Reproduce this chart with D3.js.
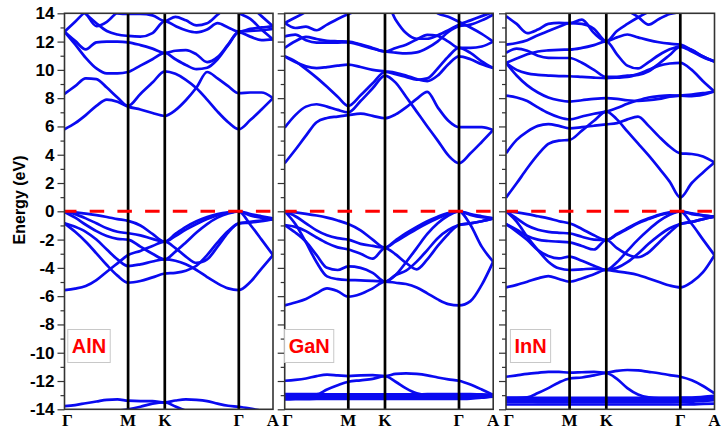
<!DOCTYPE html>
<html><head><meta charset="utf-8">
<script src="https://cdn.jsdelivr.net/npm/d3@7"></script>
<style>body{margin:0;background:#fff}svg{display:block}</style>
</head><body>
<svg id="chart" width="723" height="439"></svg>
<script>
// ---------- data ----------
const kLabels = ["Γ","M","K","Γ","A"];
const kTicks = [0, 0.305, 0.481, 0.836, 1.0];
const kGrid = [0, 0.051, 0.102, 0.153, 0.203, 0.254, 0.305, 0.364, 0.422, 0.481, 0.532, 0.582, 0.633, 0.684, 0.734, 0.785, 0.836, 0.891, 0.945, 1.0];
const energyMajor = [-14,-12,-10,-8,-6,-4,-2,0,2,4,6,8,10,12,14];
const energyMinor = [-13,-11,-9,-7,-5,-3,-1,1,3,5,7,9,11,13];
const materials = ["AlN","GaN","InN"];

const alnBands = [
 [5.8,6.23,6.8,7.45,7.9,7.75,7.4,7.2,6.95,6.75,7.15,7.85,8.75,9.85,9.4,8.85,8.35,8.4,8.4,8.0],
 [8.3,8.85,9.4,9.35,8.75,8.05,7.45,8.3,9.1,9.9,9.72,9.3,8.7,7.9,7.05,6.3,5.8,6.45,7.2,8.0],
 [12.7,11.8,10.85,10.1,9.75,9.75,9.85,10.3,10.75,11.2,10.75,10.35,10.05,10.15,10.75,11.75,12.65,12.35,12.1,12.15],
 [12.7,12.05,11.45,11.95,12.0,12.0,11.95,11.75,11.5,11.2,11.35,11.4,11.1,10.55,10.9,11.8,12.7,12.75,12.8,12.9],
 [15.0,14.5,13.95,13.3,12.75,12.5,12.4,12.35,12.6,13.45,13.1,12.8,12.65,12.85,13.3,13.0,12.7,12.9,13.0,13.08],
 [12.7,13.4,14.1,14.3,14.15,14.0,13.95,13.95,13.85,13.45,13.75,13.5,13.15,13.3,13.9,14.5,15.0,14.5,13.8,13.08],
 [15.2,14.7,14.0,13.1,13.4,14.1,14.6,14.8,14.6,14.2,14.4,14.6,14.8,14.8,14.6,14.3,14.0,13.6,12.85,12.15],
 [0,-0.08,-0.17,-0.27,-0.4,-0.55,-0.68,-1.0,-1.6,-2.15,-1.6,-1.1,-0.7,-0.4,-0.2,-0.07,0,-0.2,-0.35,-0.5],
 [0,-0.2,-0.5,-0.85,-1.2,-1.45,-1.55,-1.7,-1.95,-2.15,-1.75,-1.3,-0.9,-0.55,-0.28,-0.1,0,-0.3,-0.45,-0.55],
 [-0.05,-0.45,-0.95,-1.4,-1.75,-1.95,-2.0,-2.5,-3.0,-3.4,-2.85,-2.2,-1.5,-0.9,-0.45,-0.15,0,-0.95,-2.0,-3.1],
 [-0.85,-1.1,-1.45,-2.0,-2.7,-3.4,-3.87,-3.75,-3.55,-3.4,-3.5,-3.75,-4.15,-4.65,-5.1,-5.45,-5.57,-5.0,-4.05,-3.1],
 [-0.85,-1.45,-2.15,-2.97,-3.8,-4.55,-5.05,-4.93,-4.67,-4.4,-4.35,-4.2,-3.85,-3.1,-2.2,-1.4,-0.85,-0.75,-0.65,-0.55],
 [-5.57,-5.47,-5.28,-4.86,-4.27,-3.68,-3.09,-2.8,-2.45,-2.15,-2.6,-3.2,-3.65,-3.4,-2.5,-1.5,-0.85,-0.8,-0.7,-0.55],
 [-13.77,-13.7,-13.57,-13.45,-13.33,-13.3,-13.39,-13.42,-13.42,-13.51,-13.38,-13.3,-13.33,-13.42,-13.6,-13.75,-13.82,-13.95,-14.1,-14.3],
 [-14.6,-14.5,-14.4,-14.3,-14.2,-14.1,-14.0,-13.82,-13.6,-13.51,-13.8,-14.1,-14.4,-14.6,-14.7,-14.7,-14.7,-14.7,-14.7,-14.7]
];

const ganBands = [
 [3.4,4.35,5.35,6.3,6.6,6.7,6.8,6.9,6.75,6.58,6.85,7.35,7.95,8.45,7.35,6.4,5.95,5.95,5.95,5.75],
 [5.92,6.8,7.4,7.57,7.4,7.17,7.0,7.8,8.7,9.6,9.1,8.1,7.05,6.0,5.0,3.95,3.4,4.1,4.9,5.75],
 [10.96,10.6,10.05,9.45,8.8,8.1,7.45,8.2,9.05,9.85,9.7,9.5,9.3,9.4,10.1,10.95,11.55,11.2,10.6,10.13],
 [10.96,10.55,10.25,10.13,10.2,10.3,10.37,10.2,10.0,9.9,9.8,9.6,9.35,9.2,9.6,10.4,10.96,10.75,10.4,10.13],
 [11.55,12.02,12.33,12.18,12.05,12.02,12.0,11.8,11.55,11.3,11.55,11.78,12.15,12.48,12.4,12.0,11.55,11.55,11.65,12.0],
 [12.37,12.49,12.09,11.92,11.92,11.93,11.95,11.75,11.5,11.3,11.22,11.17,11.24,11.55,12.02,12.68,13.08,13.2,13.5,13.9],
 [13.32,12.96,13.06,12.8,13.2,13.6,13.95,14.3,14.6,14.9,13.55,12.6,12.2,12.2,12.45,12.8,13.2,13.5,13.8,14.1],
 [13.32,13.7,14.1,14.5,14.8,15.0,15.0,15.0,15.0,15.0,15.0,15.0,15.0,14.6,14.0,13.75,13.4,13.0,12.55,12.0],
 [0,-0.08,-0.18,-0.3,-0.45,-0.65,-0.9,-1.35,-2.0,-2.57,-2.05,-1.55,-1.1,-0.7,-0.38,-0.12,0,-0.2,-0.35,-0.5],
 [0,-0.35,-0.85,-1.35,-1.7,-1.9,-2.0,-2.3,-2.45,-2.57,-2.15,-1.7,-1.25,-0.85,-0.5,-0.18,0,-0.25,-0.42,-0.5],
 [-0.97,-1.1,-1.4,-1.85,-2.25,-2.55,-2.7,-3.0,-3.35,-2.6,-3.05,-3.65,-4.1,-3.4,-2.45,-1.6,-0.97,-0.85,-0.7,-0.5],
 [-0.97,-1.5,-2.15,-3.1,-4.0,-4.15,-3.9,-4.0,-4.35,-4.97,-4.5,-3.6,-2.6,-1.6,-0.85,-0.3,0,-0.97,-2.5,-3.56],
 [0,-0.9,-2.2,-3.6,-4.6,-4.8,-4.86,-4.88,-4.92,-4.97,-4.5,-4.2,-3.56,-2.74,-1.9,-1.32,-0.97,-0.85,-0.7,-0.5],
 [-6.65,-6.45,-6.2,-5.8,-5.45,-5.65,-6.04,-5.85,-5.45,-4.97,-5.05,-5.14,-5.38,-5.8,-6.23,-6.56,-6.65,-6.35,-5.2,-3.56],
 [-11.98,-11.92,-11.82,-11.65,-11.55,-11.6,-11.65,-11.6,-11.58,-11.65,-11.5,-11.46,-11.5,-11.6,-11.75,-11.88,-11.98,-12.25,-12.6,-12.99],
 [-13.0,-13.0,-13.0,-12.95,-12.6,-12.3,-12.05,-11.95,-11.85,-11.65,-12.05,-12.52,-12.87,-13.0,-13.0,-13.0,-13.0,-13.0,-13.0,-13.0],
 [-12.92,-12.92,-12.93,-12.93,-12.94,-12.94,-12.94,-12.94,-12.94,-12.94,-12.94,-12.94,-12.94,-12.93,-12.93,-12.93,-12.92,-12.93,-12.95,-12.99],
 [-13.05,-13.05,-13.05,-13.06,-13.06,-13.06,-13.06,-13.06,-13.06,-13.06,-13.06,-13.06,-13.06,-13.06,-13.05,-13.05,-13.05,-13.05,-13.04,-13.02],
 [-13.16,-13.16,-13.16,-13.16,-13.17,-13.17,-13.17,-13.17,-13.17,-13.17,-13.17,-13.17,-13.17,-13.17,-13.16,-13.16,-13.16,-13.14,-13.1,-13.06],
 [-13.3,-13.29,-13.28,-13.27,-13.27,-13.27,-13.27,-13.27,-13.27,-13.27,-13.27,-13.27,-13.27,-13.27,-13.27,-13.27,-13.27,-13.24,-13.18,-13.1]
];

const innBands = [
 [0.97,1.98,3.04,4.0,4.76,5.0,5.05,5.7,6.4,7.05,6.5,5.65,4.8,3.95,3.05,2.1,0.97,2.0,2.75,3.45],
 [4.1,5.05,5.64,6.04,6.16,6.04,5.87,5.95,6.05,6.15,6.23,6.5,6.7,6.04,5.28,4.58,4.1,4.05,3.87,3.45],
 [8.18,8.05,7.8,7.35,6.95,6.65,6.5,6.7,6.9,7.05,7.3,7.6,7.85,8.05,8.15,8.2,8.18,8.15,8.25,8.47],
 [10.49,9.6,8.9,8.4,8.05,7.85,7.76,7.85,7.95,8.0,7.95,7.85,7.8,7.85,7.95,8.1,8.18,8.25,8.35,8.47],
 [10.49,10.0,9.75,9.65,9.6,9.56,9.55,9.5,9.45,9.42,9.45,9.5,9.7,10.0,10.3,10.45,10.5,10.0,9.2,8.47],
 [11.2,11.5,11.35,11.0,10.85,10.84,10.84,10.5,10.0,9.5,9.5,9.6,9.65,9.9,10.45,11.05,11.65,11.4,10.95,10.6],
 [10.49,10.8,11.1,11.3,11.38,11.42,11.43,11.55,11.75,12.02,11.1,10.3,10.1,10.55,11.05,11.45,11.65,11.3,10.9,10.6],
 [11.78,11.9,12.1,12.45,12.75,13.05,13.3,13.25,12.9,12.02,12.75,13.25,13.7,14.1,14.4,14.6,14.8,14.8,14.8,14.8],
 [13.8,13.25,12.6,12.85,13.25,13.32,13.3,13.55,12.6,12.02,12.3,12.5,12.3,12.1,11.95,11.85,11.78,11.4,10.95,10.6],
 [14.6,14.5,14.4,14.3,14.3,14.3,14.4,14.6,14.8,15.0,14.6,14.2,13.75,13.2,13.6,13.95,14.1,14.3,14.5,14.6],
 [0,-0.08,-0.2,-0.35,-0.5,-0.7,-0.85,-1.25,-1.7,-2.03,-1.6,-1.2,-0.8,-0.5,-0.25,-0.08,0,-0.15,-0.28,-0.38],
 [0,-0.5,-1.0,-1.3,-1.45,-1.52,-1.56,-1.8,-2.0,-2.03,-1.65,-1.25,-0.85,-0.55,-0.28,-0.1,0,-0.2,-0.3,-0.38],
 [-0.9,-1.3,-1.75,-2.0,-2.1,-2.15,-2.2,-2.45,-2.7,-2.03,-2.6,-3.05,-3.25,-2.9,-2.2,-1.5,-0.9,-0.75,-0.55,-0.38],
 [-0.9,-1.44,-2.03,-2.74,-3.16,-3.33,-3.2,-3.5,-3.85,-4.15,-3.6,-2.8,-2.0,-1.3,-0.7,-0.25,0,-0.9,-2.0,-3.1],
 [0,-0.73,-1.8,-2.74,-3.56,-4.03,-4.15,-4.1,-4.05,-4.15,-4.0,-3.6,-3.0,-2.3,-1.7,-1.2,-0.9,-0.75,-0.55,-0.38],
 [-5.38,-5.2,-4.98,-4.74,-4.58,-4.79,-4.98,-4.75,-4.45,-4.15,-4.25,-4.35,-4.5,-4.75,-5.0,-5.25,-5.38,-5.0,-4.3,-3.1],
 [-11.7,-11.6,-11.5,-11.42,-11.35,-11.36,-11.4,-11.38,-11.36,-11.4,-11.28,-11.22,-11.25,-11.35,-11.45,-11.58,-11.7,-11.95,-12.35,-12.87],
 [-13.2,-13.2,-13.15,-12.85,-12.5,-12.1,-11.82,-11.75,-11.6,-11.45,-11.85,-12.5,-12.95,-13.15,-13.2,-13.2,-13.2,-13.2,-13.2,-13.1],
 [-13.18,-13.18,-13.18,-13.19,-13.19,-13.19,-13.19,-13.19,-13.19,-13.19,-13.19,-13.19,-13.19,-13.19,-13.19,-13.19,-13.18,-13.17,-13.12,-13.05],
 [-13.28,-13.28,-13.28,-13.29,-13.29,-13.29,-13.29,-13.29,-13.29,-13.29,-13.29,-13.29,-13.29,-13.29,-13.29,-13.29,-13.28,-13.27,-13.2,-13.12],
 [-13.38,-13.38,-13.38,-13.39,-13.39,-13.39,-13.39,-13.39,-13.39,-13.39,-13.39,-13.39,-13.39,-13.39,-13.39,-13.39,-13.38,-13.37,-13.3,-13.2],
 [-13.48,-13.48,-13.48,-13.49,-13.49,-13.49,-13.49,-13.49,-13.49,-13.49,-13.49,-13.49,-13.49,-13.49,-13.49,-13.49,-13.48,-13.47,-13.42,-13.35],
 [-13.66,-13.66,-13.66,-13.66,-13.66,-13.66,-13.66,-13.66,-13.66,-13.66,-13.66,-13.66,-13.66,-13.66,-13.66,-13.66,-13.66,-13.65,-13.62,-13.6]
];

const panelBands = [alnBands, ganBands, innBands];

// ---------- layout ----------
const panelLeft = [64.5, 284.7, 506];
const panelW = 208.5;
const plotTop = 13.3, plotBottom = 409.3;

const svg = d3.select("#chart");
const y = d3.scaleLinear().domain([-14, 14]).range([plotBottom, plotTop]);
const sans = "'Liberation Sans', Arial, Helvetica, sans-serif";
const serif = "'Liberation Serif', 'Times New Roman', serif";

materials.forEach((mat, i) => {
  const x = d3.scaleLinear().domain([0, 1]).range([panelLeft[i], panelLeft[i] + panelW]);
  const clipId = "clip" + i;
  svg.append("clipPath").attr("id", clipId)
    .append("rect").attr("x", x(0)).attr("y", plotTop).attr("width", panelW).attr("height", plotBottom - plotTop);

  const g = svg.append("g");
  const inner = g.append("g").attr("clip-path", `url(#${clipId})`);

  const line = d3.line()
    .x((d, j) => x(kGrid[j]))
    .y(d => y(d))
    .curve(d3.curveMonotoneX);

  inner.selectAll("path.band").data(panelBands[i]).join("path")
    .attr("class", "band")
    .attr("d", line)
    .attr("fill", "none")
    .attr("stroke", "#0a0af0")
    .attr("stroke-width", 2.7)
    .attr("stroke-linejoin", "round");

  // high-symmetry lines
  inner.selectAll("line.hs").data(kTicks.slice(1, 4)).join("line")
    .attr("class", "hs")
    .attr("x1", d => x(d)).attr("x2", d => x(d))
    .attr("y1", plotTop).attr("y2", plotBottom)
    .attr("stroke", "#000").attr("stroke-width", 2.7);

  // Fermi level
  inner.append("line")
    .attr("x1", x(0)).attr("x2", x(1))
    .attr("y1", y(0)).attr("y2", y(0))
    .attr("stroke", "#ff0000").attr("stroke-width", 3)
    .attr("stroke-dasharray", "14.5,13.2")
    .attr("stroke-dashoffset", 2.5);

  // frame
  g.append("rect")
    .attr("x", x(0)).attr("y", plotTop).attr("width", panelW).attr("height", plotBottom - plotTop)
    .attr("fill", "none").attr("stroke", "#333").attr("stroke-width", 1.6);

  // axis ticks
  const major = g.append("g").attr("transform", `translate(${x(0)},0)`)
    .call(d3.axisLeft(y).tickValues(energyMajor).tickSize(7).tickPadding(3)
      .tickFormat(d => i === 0 ? String(d) : ""));
  const minor = g.append("g").attr("transform", `translate(${x(0)},0)`)
    .call(d3.axisLeft(y).tickValues(energyMinor).tickSize(4).tickFormat(""));
  [major, minor].forEach(a => {
    a.select(".domain").remove();
    a.selectAll(".tick line").attr("stroke", "#333").attr("stroke-width", 1.2);
  });
  major.selectAll(".tick text")
    .attr("font-family", sans).attr("font-weight", "bold").attr("font-size", 17).attr("fill", "#000");

  // k labels
  g.selectAll("text.klab").data(kTicks).join("text")
    .attr("class", "klab")
    .attr("x", (d, j) => x(d) + (j === 0 ? 3 : 0))
    .attr("y", 426)
    .attr("text-anchor", "middle")
    .attr("font-family", serif).attr("font-weight", "bold").attr("font-size", 17)
    .text((d, j) => kLabels[j]);

  // material label box
  const lg = g.append("g");
  const box = lg.append("rect");
  const lab = lg.append("text")
    .attr("x", x(0) + 24.5).attr("y", 353)
    .attr("text-anchor", "middle")
    .attr("font-family", sans).attr("font-weight", "bold").attr("font-size", 20)
    .attr("fill", "#ff0000")
    .text(mat);
  const bb = lab.node().getBBox();
  box.attr("x", bb.x - 4).attr("y", 329.5).attr("width", bb.width + 8).attr("height", 33)
    .attr("fill", "#fff").attr("stroke", "#c8c8c8").attr("stroke-width", 1);
});

// y-axis title
svg.append("text")
  .attr("transform", "translate(19,200) rotate(-90)")
  .attr("text-anchor", "middle").attr("dominant-baseline", "central")
  .attr("font-family", sans).attr("font-weight", "bold").attr("font-size", 16)
  .text("Energy (eV)");
</script>
</body></html>
